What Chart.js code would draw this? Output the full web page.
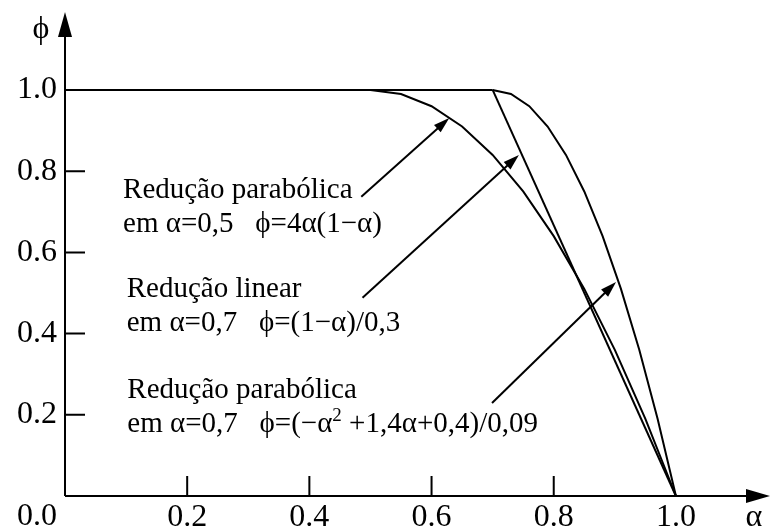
<!DOCTYPE html>
<html>
<head>
<meta charset="utf-8">
<script src="https://cdn.jsdelivr.net/npm/chart.js@4.4.1/dist/chart.umd.min.js"></script>
<style>
    html, body { margin: 0; padding: 0; background: #fff; }
    #wrap { width: 770px; height: 528px; }
</style>
</head>
<body>
<div id="wrap"><canvas id="phiChart" width="770" height="528"></canvas></div>
<script>
// Values (alpha on x, phi on y)
const plateauAlpha = [0.0, 0.7];
const plateauPhi   = [1.0, 1.0];

const parab05Alpha = [0.50, 0.55, 0.60, 0.65, 0.70, 0.75, 0.80, 0.85, 0.90, 0.95, 1.00];
const parab05Phi   = [1.00, 0.99, 0.96, 0.91, 0.84, 0.75, 0.64, 0.51, 0.36, 0.19, 0.00];

const linearAlpha = [0.7, 1.0];
const linearPhi   = [1.0, 0.0];

const parab07Alpha = [0.70, 0.73, 0.76, 0.79, 0.82, 0.85, 0.88, 0.91, 0.94, 0.97, 1.00];
const parab07Phi   = [1.00, 0.99, 0.96, 0.91, 0.84, 0.75, 0.64, 0.51, 0.36, 0.19, 0.00];

const xTickValues = [0.2, 0.4, 0.6, 0.8, 1.0];
const yTickValues = [0.2, 0.4, 0.6, 0.8, 1.0];
const cornerLabel = '0.0';
const xAxisTitle = 'α';
const yAxisTitle = 'ϕ';

const calloutTexts = [
    ['Redução parabólica', 'em α=0,5   ϕ=4α(1−α)'],
    ['Redução linear', 'em α=0,7   ϕ=(1−α)/0,3'],
    ['Redução parabólica', 'em α=0,7   ϕ=(−α^2 +1,4α+0,4)/0,09']
];

// ----------------------
// Callout placement (data units)
// ----------------------
const callouts = [
    { text: [0.095, 0.734], tail: [0.485, 0.737], head: [0.629, 0.931] },
    { text: [0.101, 0.490], tail: [0.487, 0.488], head: [0.743, 0.840] },
    { text: [0.102, 0.241], tail: [0.699, 0.229], head: [0.902, 0.527] }
];

const SERIF = "'Liberation Serif', 'Times New Roman', serif";
const TICK_FONT = '32px ' + SERIF;
const NOTE_FONT = '29px ' + SERIF;

function toPoints(xs, ys) {
    return xs.map((v, i) => ({ x: v, y: ys[i] }));
}

function lineSet(xs, ys) {
    return {
        data: toPoints(xs, ys),
        showLine: true,
        borderColor: '#000',
        borderWidth: 2,
        pointRadius: 0,
        tension: 0,
        fill: false,
        clip: false
    };
}

function drawHead(ctx, tx, ty, angle, len, half) {
    ctx.save();
    ctx.translate(tx, ty);
    ctx.rotate(angle);
    ctx.beginPath();
    ctx.moveTo(0, 0);
    ctx.lineTo(-len, -half);
    ctx.lineTo(-len, half);
    ctx.closePath();
    ctx.fill();
    ctx.restore();
}

// draws a line of text, turning "^2" into a superscript
function drawNoteLine(ctx, str, x, y) {
    const parts = str.split('^');
    let cx = x;
    parts.forEach((part, i) => {
        if (i > 0) {
            ctx.font = '19px ' + SERIF;
            ctx.fillText(part[0], cx, y - 11);
            cx += ctx.measureText(part[0]).width;
            part = part.slice(1);
            ctx.font = NOTE_FONT;
        }
        ctx.fillText(part, cx, y);
        cx += ctx.measureText(part).width;
    });
}

const figureDecor = {
    id: 'figureDecor',
    afterDraw(chart) {
        const { ctx, chartArea: a, scales: { x, y } } = chart;
        ctx.save();
        ctx.strokeStyle = '#000';
        ctx.fillStyle = '#000';
        ctx.lineWidth = 2;

        // axes with arrow heads
        ctx.beginPath();
        ctx.moveTo(a.left, a.bottom);
        ctx.lineTo(a.right - 20, a.bottom);
        ctx.moveTo(a.left, a.bottom);
        ctx.lineTo(a.left, a.top + 20);
        ctx.stroke();
        drawHead(ctx, a.right, a.bottom, 0, 24, 7);
        drawHead(ctx, a.left, a.top, -Math.PI / 2, 25, 7);

        // inward tick marks
        ctx.beginPath();
        xTickValues.filter(v => v < 1).forEach(v => {
            const px = x.getPixelForValue(v);
            ctx.moveTo(px, a.bottom);
            ctx.lineTo(px, a.bottom - 20);
        });
        yTickValues.filter(v => v < 1).forEach(v => {
            const py = y.getPixelForValue(v);
            ctx.moveTo(a.left, py);
            ctx.lineTo(a.left + 20, py);
        });
        ctx.stroke();

        // corner label and axis titles
        ctx.font = TICK_FONT;
        ctx.textBaseline = 'top';
        ctx.textAlign = 'right';
        ctx.fillText(cornerLabel, a.left - 8, a.bottom + 5);
        ctx.textAlign = 'center';
        ctx.textBaseline = 'alphabetic';
        ctx.fillText(xAxisTitle, 754, a.bottom + 30);
        ctx.fillText(yAxisTitle, 41, 38);

        // callouts
        ctx.textAlign = 'left';
        ctx.font = NOTE_FONT;
        callouts.forEach((c, i) => {
            const tx = x.getPixelForValue(c.text[0]);
            const ty = y.getPixelForValue(c.text[1]);
            ctx.fillText(calloutTexts[i][0], tx, ty);
            drawNoteLine(ctx, calloutTexts[i][1], tx, ty + 34);

            const x0 = x.getPixelForValue(c.tail[0]), y0 = y.getPixelForValue(c.tail[1]);
            const x1 = x.getPixelForValue(c.head[0]), y1 = y.getPixelForValue(c.head[1]);
            const ang = Math.atan2(y1 - y0, x1 - x0);
            ctx.beginPath();
            ctx.moveTo(x0, y0);
            ctx.lineTo(x1 - 10 * Math.cos(ang), y1 - 10 * Math.sin(ang));
            ctx.stroke();
            drawHead(ctx, x1, y1, ang, 16, 5);
        });
        ctx.restore();
    }
};

new Chart(document.getElementById('phiChart'), {
    type: 'scatter',
    data: {
        datasets: [
            lineSet(plateauAlpha, plateauPhi),
            lineSet(parab05Alpha, parab05Phi),
            lineSet(linearAlpha, linearPhi),
            lineSet(parab07Alpha, parab07Phi)
        ]
    },
    options: {
        responsive: false,
        animation: false,
        layout: { padding: { top: 12, right: 0, left: 0, bottom: 0 } },
        plugins: { legend: { display: false }, tooltip: { enabled: false } },
        scales: {
            x: {
                type: 'linear',
                min: 0,
                max: 1.154,
                afterBuildTicks: s => { s.ticks = xTickValues.map(v => ({ value: v })); },
                afterFit: s => { s.height = 32; s.paddingLeft = 0; s.paddingRight = 0; },
                grid: { display: false, drawTicks: false, tickLength: 0 },
                border: { display: false },
                ticks: {
                    color: '#000',
                    padding: 2,
                    maxRotation: 0,
                    autoSkip: false,
                    font: { family: SERIF, size: 32 },
                    callback: v => v.toFixed(1)
                }
            },
            y: {
                type: 'linear',
                min: 0,
                max: 1.192,
                afterBuildTicks: s => { s.ticks = yTickValues.map(v => ({ value: v })); },
                afterFit: s => { s.width = 65; s.paddingTop = 0; s.paddingBottom = 0; },
                grid: { display: false, drawTicks: false, tickLength: 0 },
                border: { display: false },
                ticks: {
                    color: '#000',
                    padding: 8,
                    autoSkip: false,
                    font: { family: SERIF, size: 32 },
                    callback: v => v.toFixed(1)
                }
            }
        }
    },
    plugins: [figureDecor]
});
</script>
</body>
</html>
